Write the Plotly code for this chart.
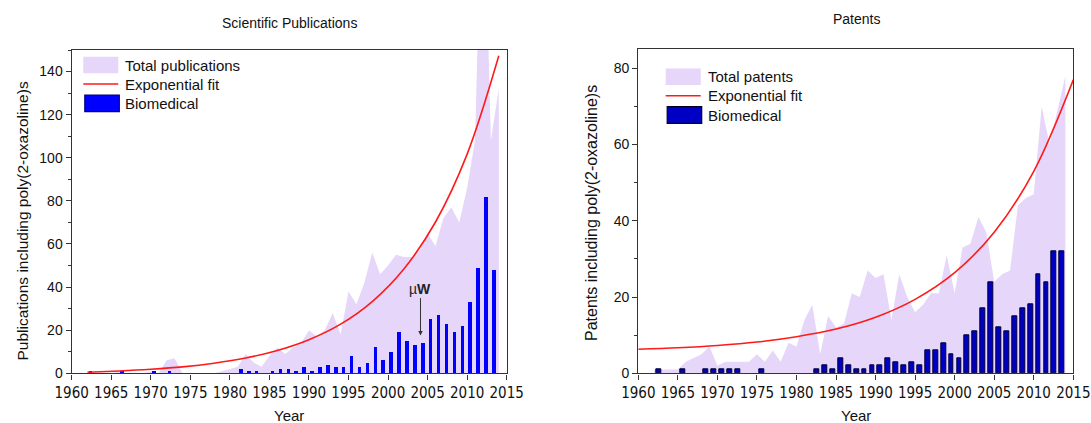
import plotly.graph_objects as go

W, H = 1091, 423

# ---------------- Scientific publications ----------------
years_pub = list(range(1962, 2015))
total_pub = [1, 0, 0, 0, 1, 0, 0, 0, 1, 0,
             6, 7, 0, 0, 0, 0, 0, 1, 2, 3,
             9, 5, 3, 8, 12, 9, 12, 14, 20, 17,
             20, 28, 18, 38, 32, 42, 56, 46, 50, 55,
             54, 54, 57, 65, 59, 72, 77, 70, 86, 108,
             250, 108, 132]

bio_pub_years = [1962, 1966, 1970, 1972, 1981, 1982, 1983, 1985, 1986, 1987,
                 1988, 1989, 1990, 1991, 1992, 1993, 1994, 1995, 1996, 1997,
                 1998, 1999, 2000, 2001, 2002, 2003, 2004, 2005, 2006, 2007,
                 2008, 2009, 2010, 2011, 2012, 2013]
bio_pub = [1, 1, 1, 1, 2, 1, 1, 1, 2, 2,
           1, 3, 1, 3, 4, 3, 3, 8, 3, 5,
           12, 6, 10, 19, 15, 13, 14, 25, 27, 23,
           19, 22, 33, 49, 82, 48]

fit_pub_years = [1962, 1966, 1970, 1974, 1978, 1982, 1986,
                 1990, 1994, 1998, 2002, 2006, 2010, 2014]
fit_pub = [0.5, 1.1, 1.9, 3.0, 4.7, 7.1, 10.6,
           15.6, 22.8, 33.3, 48.4, 70.2, 101.7, 147.3]

# ---------------- Patents ----------------
years_pat = list(range(1962, 2015))
total_pat = [1, 1, 1, 1, 3, 4, 5, 7, 2, 3,
             3, 3, 3, 5, 3, 6, 3, 8, 7, 14,
             18, 5, 15, 12, 13, 21, 20, 27, 25, 26,
             14, 26, 20, 16, 18, 21, 21, 31, 21, 33,
             34, 41, 37, 24, 26, 27, 44, 46, 47, 70,
             60, 69, 78]

bio_pat_years = [1962, 1965, 1968, 1969, 1970, 1971, 1972, 1975, 1982, 1983,
                 1984, 1985, 1986, 1987, 1988, 1989, 1990, 1991, 1992, 1993,
                 1994, 1995, 1996, 1997, 1998, 1999, 2000, 2001, 2002, 2003,
                 2004, 2005, 2006, 2007, 2008, 2009, 2010, 2011, 2012, 2013]
bio_pat = [1, 1, 1, 1, 1, 1, 1, 1, 1, 2,
           1, 4, 2, 1, 1, 2, 2, 4, 3, 2,
           3, 2, 6, 6, 8, 5, 4, 10, 11, 17,
           24, 12, 11, 15, 17, 18, 26, 24, 32, 32]

fit_pat_years = [1960, 1965, 1970, 1975, 1980, 1985,
                 1990, 1995, 2000, 2005, 2010, 2015]
fit_pat = [6.3, 6.7, 7.3, 8.2, 9.6, 11.6,
           14.7, 19.4, 26.4, 37.0, 53.0, 77.0]

LAV = "rgb(230,214,250)"
RED = "#ff1a1a"
BLUE = "#0000ff"
NAVY = "#0000c4"
FRAME = "#333333"
BASE = "Liberation Sans, Arial, sans-serif"
NARROW = "Liberation Sans Narrow, Arial Narrow, DejaVu Sans Condensed, Liberation Sans, sans-serif"


def px_x(p):
    return p / W


def px_y(p):
    return 1 - p / H


fig = go.Figure()

# left panel: area on the base axes, bars + fit on an overlay so they sit above the fill
fig.add_trace(go.Scatter(x=years_pub, y=total_pub, mode="lines", fill="tozeroy",
                         fillcolor=LAV, line=dict(width=0, color=LAV),
                         xaxis="x", yaxis="y", showlegend=False))
fig.add_trace(go.Bar(x=bio_pub_years, y=bio_pub, width=0.45, offset=0.125,
                     marker=dict(color=BLUE, line=dict(width=0)),
                     xaxis="x3", yaxis="y3", showlegend=False))
fig.add_trace(go.Scatter(x=fit_pub_years, y=fit_pub, mode="lines",
                         line=dict(color=RED, width=1.6, shape="spline"),
                         xaxis="x3", yaxis="y3", showlegend=False))

# right panel
fig.add_trace(go.Scatter(x=years_pat, y=total_pat, mode="lines", fill="tozeroy",
                         fillcolor=LAV, line=dict(width=0, color=LAV),
                         xaxis="x2", yaxis="y2", showlegend=False))
fig.add_trace(go.Bar(x=bio_pat_years, y=bio_pat, width=0.6, offset=0.28,
                     marker=dict(color=NAVY, line=dict(width=1, color="#000033")),
                     xaxis="x4", yaxis="y4", showlegend=False))
fig.add_trace(go.Scatter(x=fit_pat_years, y=fit_pat, mode="lines",
                         line=dict(color=RED, width=1.6, shape="spline"),
                         xaxis="x4", yaxis="y4", showlegend=False))

xcommon = dict(range=[1960, 2015], tick0=1960, dtick=5, ticks="outside", ticklen=5,
               tickwidth=1.2, tickcolor=FRAME, showline=True, linecolor=FRAME,
               linewidth=1.4, mirror=True, showgrid=False, zeroline=False,
               automargin=False,
               tickfont=dict(family=NARROW, size=15, color="#111"))
ycommon = dict(tick0=0, dtick=20, ticks="outside", ticklen=5, tickwidth=1.2,
               tickcolor=FRAME, showline=True, linecolor=FRAME, linewidth=1.4,
               mirror=True, showgrid=False, zeroline=False, automargin=False,
               minor=dict(dtick=10, ticks="outside", ticklen=3, tickcolor=FRAME,
                          tickwidth=1.2, showgrid=False),
               tickfont=dict(family=BASE, size=14, color="#111"))
hidden = dict(visible=False, showgrid=False, zeroline=False, automargin=False)

fig.update_layout(
    width=W, height=H,
    margin=dict(l=0, r=0, t=0, b=0),
    paper_bgcolor="white", plot_bgcolor="white",
    font=dict(family=BASE, color="#111"),
    bargap=0,
    xaxis=dict(domain=[px_x(71.7), px_x(506.7)], anchor="y", **xcommon),
    yaxis=dict(domain=[px_y(373.3), px_y(50)], range=[0, 150], anchor="x", **ycommon),
    xaxis2=dict(domain=[px_x(638.3), px_x(1073.3)], anchor="y2", **xcommon),
    yaxis2=dict(domain=[px_y(373.3), px_y(49.3)], range=[0, 85], anchor="x2", **ycommon),
    xaxis3=dict(overlaying="x", anchor="y3", range=[1960, 2015], **hidden),
    yaxis3=dict(overlaying="y", anchor="x3", range=[0, 150], **hidden),
    xaxis4=dict(overlaying="x2", anchor="y4", range=[1960, 2015], **hidden),
    yaxis4=dict(overlaying="y2", anchor="x4", range=[0, 85], **hidden),
)

shapes = []
annotations = []


def text(x, y, s, size=15, xanchor="left", angle=0):
    annotations.append(dict(x=px_x(x), y=px_y(y), xref="paper", yref="paper",
                            text=s, showarrow=False, xanchor=xanchor, yanchor="middle",
                            textangle=angle, font=dict(size=size, color="#111", family=BASE)))


def legend(x0, ys, labels, bio_fill, bio_line):
    # filled swatch for the totals
    shapes.append(dict(type="rect", xref="paper", yref="paper",
                       x0=px_x(x0), x1=px_x(x0 + 35), y0=px_y(ys[0] + 8.3), y1=px_y(ys[0] - 8.3),
                       fillcolor=LAV, line=dict(width=0)))
    # red line for the fit
    shapes.append(dict(type="line", xref="paper", yref="paper",
                       x0=px_x(x0), x1=px_x(x0 + 35), y0=px_y(ys[1]), y1=px_y(ys[1]),
                       line=dict(color=RED, width=1.6)))
    # bar swatch for biomedical
    shapes.append(dict(type="rect", xref="paper", yref="paper",
                       x0=px_x(x0 + 1.5), x1=px_x(x0 + 36), y0=px_y(ys[2] + 8.3), y1=px_y(ys[2] - 8.3),
                       fillcolor=bio_fill, line=dict(width=1.2, color=bio_line)))
    for yy, lab in zip(ys, labels):
        text(x0 + 40, yy, lab, size=15)


legend(83.3, [65, 84, 103.3], ["Total publications", "Exponential fit", "Biomedical"],
       BLUE, "#00007a")
legend(665.7, [76.7, 95.7, 115], ["Total patents", "Exponential fit", "Biomedical"],
       NAVY, "#000022")

# panel titles
text(289, 23, "Scientific Publications", size=14, xanchor="center")
text(856, 19, "Patents", size=14, xanchor="center")

# axis titles
text(289, 415, "Year", size=15, xanchor="center")
text(856, 415, "Year", size=15, xanchor="center")
text(21.5, 221, "Publications including poly(2-oxazoline)s", size=15.5,
     xanchor="center", angle=-90)
text(592, 213, "Patents including poly(2-oxazoline)s", size=16,
     xanchor="center", angle=-90)

# microwave marker on the publications panel
annotations.append(dict(x=2004.1, y=17.5, xref="x", yref="y", text="µ<b>W</b>",
                        showarrow=True, arrowhead=2, arrowsize=0.9, arrowwidth=1,
                        arrowcolor="#333", ax=0, ay=-47,
                        font=dict(size=14, color="#222", family=BASE)))

fig.update_layout(shapes=shapes, annotations=annotations)

fig.write_html("out.html")
